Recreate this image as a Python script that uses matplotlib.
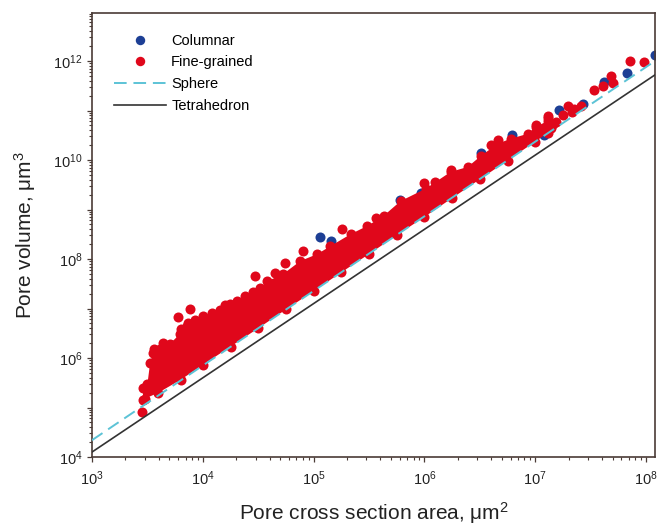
import numpy as np
import matplotlib
matplotlib.use("Agg")
import matplotlib.pyplot as plt
from matplotlib.ticker import LogLocator, FuncFormatter, NullFormatter
from matplotlib.lines import Line2D

plt.rcParams['font.family'] = ['Liberation Sans', 'DejaVu Sans']
plt.rcParams['mathtext.fontset'] = 'custom'
plt.rcParams['mathtext.rm'] = 'Liberation Sans'
plt.rcParams['mathtext.it'] = 'Liberation Sans:italic'
plt.rcParams['mathtext.bf'] = 'Liberation Sans:bold'

# ---------------- data (log10 values) ----------------
# dense fine-grained cloud: upper envelope (marker centres)
band_top_x = [3.46, 3.50, 3.524, 3.552, 3.615, 3.705, 3.796, 3.859, 3.931, 4.004,
              4.085, 4.157, 4.248, 4.311, 4.383, 4.456, 4.519, 4.582, 4.727, 4.881,
              5.034, 5.152, 5.333, 5.486, 5.631, 5.785, 6.011, 6.237, 6.391, 6.508,
              6.662, 6.779, 6.933, 7.005, 7.114]
band_top_y = [5.40, 5.47, 5.89, 6.11, 6.19, 6.29, 6.49, 6.65, 6.77, 6.85,
              6.91, 6.97, 7.09, 7.15, 7.25, 7.33, 7.41, 7.55, 7.70, 7.96,
              8.10, 8.26, 8.50, 8.67, 8.87, 9.17, 9.42, 9.76, 9.86, 10.08,
              10.33, 10.43, 10.53, 10.67, 10.79]
# lower envelope (marker centres)
band_bot_x = [3.46, 3.479, 3.6, 3.8, 4.0, 4.25, 4.5, 4.75, 5.0, 5.25, 5.5, 5.75,
              6.0, 6.25, 6.5, 6.75, 7.0, 7.114]
band_bot_y = [5.16, 5.18, 5.30, 5.56, 5.86, 6.23, 6.60, 6.98, 7.35, 7.73, 8.10, 8.48,
              8.85, 9.23, 9.61, 9.99, 10.37, 10.55]

# individual fine-grained points
fine_x = [3.449, 3.780, 3.886, 3.805, 3.865, 4.474, 4.745, 4.901, 5.996, 6.243,
          6.665, 7.005, 7.111, 7.066, 7.111, 7.186, 7.247, 7.292, 7.412, 7.533,
          7.608, 7.684, 7.699, 7.858, 7.985, 7.140, 7.160, 7.330, 7.350,
          3.560, 3.640, 4.200, 4.650, 5.260, 5.560, 6.100, 6.600]
fine_y = [4.907, 6.830, 6.980, 6.581, 6.708, 7.654, 7.919, 8.166, 9.543, 9.800,
          10.407, 10.711, 10.879, 10.609, 10.846, 10.777, 10.913, 11.081, 11.095, 11.419,
          11.500, 11.688, 11.555, 11.992, 11.972, 10.640, 10.720, 10.960, 11.030,
          6.180, 6.300, 7.080, 7.720, 8.600, 8.820, 9.560, 10.300]

# columnar points
col_x = [3.712, 4.693, 5.061, 5.161, 5.779, 5.966, 6.514, 6.668, 6.788, 7.078,
         7.216, 7.428, 7.623, 7.828, 8.084]
col_y = [6.257, 7.607, 8.441, 8.368, 9.192, 9.328, 10.138, 10.306, 10.508, 10.508,
         11.014, 11.135, 11.567, 11.757, 12.128]

# reference lines (end points, log10)
sphere_x = [3.0, 8.081]
sphere_y = [4.34, 12.00]
tetra_x = [3.0, 8.081]
tetra_y = [4.10, 11.72]

RED = '#e0071b'
BLUE = '#1d3f95'
CYAN = '#5cc3d6'
DARK = '#333333'
SPINE = '#4a3b36'

def p(a):
    return 10.0 ** np.asarray(a)

fig = plt.figure(figsize=(6.57, 5.26), dpi=100)
ax = fig.add_axes([92 / 657, (526 - 457) / 526, (655 - 92) / 657, (457 - 12.5) / 526])
ax.set_xscale('log')
ax.set_yscale('log')

ms = 52
ax.scatter(p(col_x), p(col_y), s=ms, color=BLUE, linewidths=0, zorder=2)

poly_x = np.concatenate([p(band_top_x), p(band_bot_x)[::-1]])
poly_y = np.concatenate([p(band_top_y), p(band_bot_y)[::-1]])
ax.fill(poly_x, poly_y, color=RED, lw=0, zorder=3)
ax.scatter(p(band_top_x), p(band_top_y), s=ms, color=RED, linewidths=0, zorder=3)
ax.scatter(p(band_bot_x), p(band_bot_y), s=ms, color=RED, linewidths=0, zorder=3)
ax.scatter(p(fine_x), p(fine_y), s=ms, color=RED, linewidths=0, zorder=3)

ax.plot(p(sphere_x), p(sphere_y), color=CYAN, lw=1.4, dashes=(6.5, 3.5), zorder=4)
ax.plot(p(tetra_x), p(tetra_y), color=DARK, lw=1.2, zorder=4)

ax.set_xlim(1e3, 10 ** 8.081)
ax.set_ylim(1e4, 10 ** 12.98)

for s in ax.spines.values():
    s.set_color(SPINE)
    s.set_linewidth(1.2)

ax.xaxis.set_major_locator(LogLocator(base=10, numticks=20))
ax.xaxis.set_minor_locator(LogLocator(base=10, subs=np.arange(2, 10), numticks=20))
ax.yaxis.set_major_locator(LogLocator(base=10, numticks=20))
ax.yaxis.set_minor_locator(LogLocator(base=10, subs=np.arange(2, 10), numticks=20))
ax.xaxis.set_minor_formatter(NullFormatter())
ax.yaxis.set_minor_formatter(NullFormatter())
ax.xaxis.set_major_formatter(FuncFormatter(
    lambda v, pos: r'$\mathregular{10^{%d}}$' % round(np.log10(v))))
ax.yaxis.set_major_formatter(FuncFormatter(
    lambda v, pos: (r'$\mathregular{10^{%d}}$' % round(np.log10(v)))
    if round(np.log10(v)) % 2 == 0 else ''))
ax.tick_params(which='both', direction='out', color=SPINE, top=False, right=False,
               labelsize=10.5, labelcolor='#222222')
ax.tick_params(which='major', length=3.8, width=0.9)
ax.tick_params(which='minor', length=2.2, width=0.8)
ax.tick_params(axis='x', which='major', pad=5)
ax.tick_params(axis='y', which='major', pad=3)

ax.set_xlabel(r'Pore cross section area, μm$^\mathregular{2}$', fontsize=15,
              color='#222222', labelpad=9)
ax.set_ylabel(r'Pore volume, μm$^\mathregular{3}$', fontsize=15, color='#222222',
              labelpad=11)

handles = [
    Line2D([], [], ls='none', marker='o', ms=6.8, color=BLUE, mec='none'),
    Line2D([], [], ls='none', marker='o', ms=6.8, color=RED, mec='none'),
    Line2D([], [], color=CYAN, lw=1.4, dashes=(6.5, 3.5)),
    Line2D([], [], color=DARK, lw=1.2),
]
labels = ['Columnar', 'Fine-grained', 'Sphere', 'Tetrahedron']
ax.legend(handles, labels, loc='upper left', bbox_to_anchor=(0.028, 0.965),
          frameon=False, fontsize=10.5, handlelength=3.6, handletextpad=0.35,
          labelspacing=0.52, borderaxespad=0)

fig.savefig('out.png', dpi=100)
